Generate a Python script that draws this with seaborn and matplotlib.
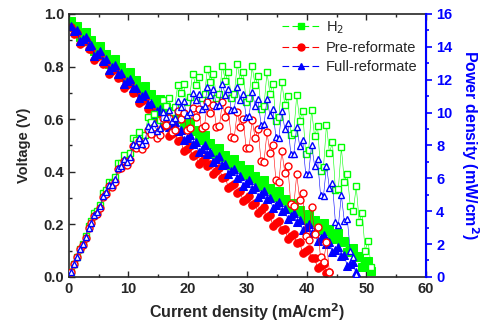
import matplotlib
matplotlib.use("Agg")
import matplotlib.pyplot as plt
import seaborn as sns
from matplotlib.lines import Line2D
from matplotlib.ticker import MultipleLocator

# current density (mA/cm2), voltage (V), power density (mW/cm2)
i_h2 = [0.3, 0.8, 1.3, 1.8, 2.3, 2.8, 3.3, 3.8, 4.3, 4.8, 5.3, 5.8, 6.3, 6.8, 7.3, 7.8, 8.3, 8.8,
        9.3, 9.8, 10.3, 10.8, 11.3, 11.8, 12.3, 12.8, 13.3, 13.8, 14.3, 14.8, 15.3, 15.8, 16.3,
        16.8, 17.3, 17.8, 18.3, 18.8, 19.3, 19.8, 20.3, 20.8, 21.3, 21.8, 22.3, 22.8, 23.3, 23.8,
        24.3, 24.8, 25.3, 25.8, 26.3, 26.8, 27.3, 27.8, 28.3, 28.8, 29.3, 29.8, 30.3, 30.8, 31.3,
        31.8, 32.3, 32.8, 33.3, 33.8, 34.3, 34.8, 35.3, 35.8, 36.3, 36.8, 37.3, 37.8, 38.3, 38.8,
        39.3, 39.8, 40.3, 40.8, 41.3, 41.8, 42.3, 42.8, 43.3, 43.8, 44.3, 44.8, 45.3, 45.8, 46.3,
        46.8, 47.3, 47.8, 48.3, 48.8, 49.3, 49.8, 50.3, 50.8]
v_h2 = [0.972, 0.949, 0.954, 0.913, 0.922, 0.932, 0.896, 0.900, 0.860, 0.869, 0.879, 0.844, 0.849,
        0.809, 0.819, 0.829, 0.794, 0.799, 0.759, 0.769, 0.779, 0.743, 0.748, 0.707, 0.717, 0.726,
        0.691, 0.695, 0.655, 0.664, 0.675, 0.641, 0.648, 0.609, 0.621, 0.632, 0.599, 0.605, 0.567,
        0.578, 0.589, 0.554, 0.559, 0.519, 0.529, 0.539, 0.504, 0.509, 0.469, 0.479, 0.490, 0.457,
        0.464, 0.426, 0.438, 0.450, 0.417, 0.424, 0.386, 0.398, 0.410, 0.376, 0.383, 0.344, 0.356,
        0.367, 0.334, 0.340, 0.302, 0.313, 0.325, 0.291, 0.298, 0.259, 0.271, 0.282, 0.249, 0.255,
        0.217, 0.228, 0.241, 0.209, 0.217, 0.180, 0.193, 0.206, 0.174, 0.182, 0.145, 0.158, 0.168,
        0.132, 0.135, 0.094, 0.102, 0.111, 0.074, 0.079, 0.039, 0.049, 0.059, 0.024]
p_h2 = [0.28, 0.79, 1.23, 1.72, 2.03, 2.47, 3.09, 3.38, 3.87, 3.98, 4.39, 5.13, 5.29, 5.77, 5.69,
        6.08, 6.92, 6.94, 7.43, 7.14, 7.51, 8.46, 8.34, 8.81, 8.33, 8.65, 9.72, 9.45, 9.94, 9.24,
        9.56, 10.76, 10.40, 10.90, 10.05, 10.36, 11.69, 11.19, 11.72, 10.65, 10.94, 12.36, 11.69,
        12.19, 10.90, 11.15, 12.68, 11.88, 12.37, 10.89, 11.13, 12.82, 11.94, 12.49, 10.87, 11.12,
        12.93, 11.92, 12.48, 10.67, 10.91, 12.81, 11.67, 12.21, 10.21, 10.40, 12.45, 11.15, 11.73,
        9.50, 9.71, 11.85, 10.45, 11.00, 8.62, 8.77, 11.07, 9.51, 10.10, 7.48, 7.70, 10.16, 8.55,
        9.20, 6.47, 6.68, 9.27, 7.53, 8.20, 5.29, 5.35, 7.88, 5.79, 6.27, 4.30, 4.00, 5.51, 3.37,
        3.89, 1.60, 2.20, 0.60]

i_pre = [0.3, 0.8, 1.3, 1.8, 2.3, 2.8, 3.3, 3.8, 4.3, 4.8, 5.3, 5.8, 6.3, 6.8, 7.3, 7.8, 8.3, 8.8,
         9.3, 9.8, 10.3, 10.8, 11.3, 11.8, 12.3, 12.8, 13.3, 13.8, 14.3, 14.8, 15.3, 15.8, 16.3,
         16.8, 17.3, 17.8, 18.3, 18.8, 19.3, 19.8, 20.3, 20.8, 21.3, 21.8, 22.3, 22.8, 23.3, 23.8,
         24.3, 24.8, 25.3, 25.8, 26.3, 26.8, 27.3, 27.8, 28.3, 28.8, 29.3, 29.8, 30.3, 30.8, 31.3,
         31.8, 32.3, 32.8, 33.3, 33.8, 34.3, 34.8, 35.3, 35.8, 36.3, 36.8, 37.3, 37.8, 38.3, 38.8,
         39.3, 39.8, 40.3, 40.8, 41.3, 41.8, 42.3, 42.8, 43.3, 43.8]
v_pre = [0.950, 0.923, 0.927, 0.885, 0.893, 0.902, 0.865, 0.868, 0.826, 0.835, 0.844, 0.808, 0.813,
         0.772, 0.782, 0.791, 0.756, 0.760, 0.720, 0.729, 0.738, 0.700, 0.703, 0.660, 0.668, 0.675,
         0.638, 0.640, 0.598, 0.605, 0.613, 0.575, 0.578, 0.535, 0.543, 0.552, 0.516, 0.520, 0.478,
         0.487, 0.496, 0.459, 0.466, 0.428, 0.441, 0.453, 0.421, 0.428, 0.391, 0.403, 0.413, 0.377,
         0.380, 0.338, 0.346, 0.355, 0.320, 0.326, 0.287, 0.298, 0.309, 0.275, 0.281, 0.242, 0.253,
         0.264, 0.229, 0.234, 0.194, 0.204, 0.214, 0.179, 0.184, 0.144, 0.154, 0.164, 0.128, 0.131,
         0.090, 0.098, 0.106, 0.070, 0.073, 0.032, 0.041, 0.050, 0.014, 0.018]
p_pre = [0.27, 0.77, 1.19, 1.67, 1.97, 2.39, 2.97, 3.26, 3.72, 3.84, 4.21, 4.89, 5.06, 5.52, 5.45,
         5.78, 6.57, 6.60, 7.07, 6.80, 7.09, 7.94, 7.83, 8.26, 7.79, 8.00, 8.95, 8.69, 9.12, 8.44,
         8.61, 9.64, 9.26, 9.66, 8.79, 8.94, 10.08, 9.59, 10.00, 8.95, 9.05, 10.28, 9.71, 10.20,
         9.05, 9.19, 10.62, 9.95, 10.47, 9.13, 9.18, 10.63, 9.73, 10.13, 8.49, 8.48, 10.05, 9.10,
         9.58, 7.84, 7.85, 9.55, 8.48, 8.97, 7.04, 7.02, 8.79, 7.57, 8.03, 5.88, 5.79, 7.66, 6.32,
         6.77, 4.44, 4.31, 6.24, 4.69, 5.11, 2.51, 2.26, 4.28, 2.60, 3.01, 1.20, 0.90, 2.12, 0.30]

i_full = [0.3, 0.8, 1.3, 1.8, 2.3, 2.8, 3.3, 3.8, 4.3, 4.8, 5.3, 5.8, 6.3, 6.8, 7.3, 7.8, 8.3, 8.8,
          9.3, 9.8, 10.3, 10.8, 11.3, 11.8, 12.3, 12.8, 13.3, 13.8, 14.3, 14.8, 15.3, 15.8, 16.3,
          16.8, 17.3, 17.8, 18.3, 18.8, 19.3, 19.8, 20.3, 20.8, 21.3, 21.8, 22.3, 22.8, 23.3, 23.8,
          24.3, 24.8, 25.3, 25.8, 26.3, 26.8, 27.3, 27.8, 28.3, 28.8, 29.3, 29.8, 30.3, 30.8, 31.3,
          31.8, 32.3, 32.8, 33.3, 33.8, 34.3, 34.8, 35.3, 35.8, 36.3, 36.8, 37.3, 37.8, 38.3, 38.8,
          39.3, 39.8, 40.3, 40.8, 41.3, 41.8, 42.3, 42.8, 43.3, 43.8, 44.3, 44.8, 45.3, 45.8, 46.3,
          46.8, 47.3, 47.8, 48.2]
v_full = [0.955, 0.934, 0.938, 0.897, 0.905, 0.914, 0.878, 0.882, 0.841, 0.849, 0.859, 0.823, 0.828,
          0.787, 0.797, 0.806, 0.771, 0.775, 0.735, 0.744, 0.753, 0.717, 0.720, 0.679, 0.687, 0.696,
          0.659, 0.662, 0.621, 0.630, 0.639, 0.604, 0.609, 0.569, 0.579, 0.589, 0.554, 0.559, 0.519,
          0.529, 0.540, 0.507, 0.514, 0.476, 0.488, 0.500, 0.467, 0.474, 0.436, 0.448, 0.459, 0.425,
          0.431, 0.391, 0.402, 0.412, 0.378, 0.384, 0.345, 0.357, 0.369, 0.336, 0.343, 0.305, 0.316,
          0.328, 0.295, 0.301, 0.262, 0.274, 0.285, 0.252, 0.258, 0.220, 0.231, 0.242, 0.209, 0.215,
          0.177, 0.188, 0.200, 0.167, 0.174, 0.136, 0.148, 0.160, 0.126, 0.133, 0.094, 0.104, 0.114,
          0.079, 0.083, 0.040, 0.048, 0.055, 0.020]
p_full = [0.28, 0.77, 1.21, 1.68, 2.01, 2.43, 3.00, 3.31, 3.77, 3.93, 4.31, 4.95, 5.15, 5.59, 5.60,
          5.94, 6.65, 6.73, 7.16, 7.00, 7.29, 8.07, 8.02, 8.43, 8.08, 8.33, 9.16, 9.00, 9.38, 8.88,
          9.09, 10.02, 9.76, 10.15, 9.50, 9.68, 10.69, 10.32, 10.69, 9.88, 10.05, 11.17, 10.74, 11.14,
          10.21, 10.37, 11.58, 11.04, 11.45, 10.37, 10.47, 11.74, 11.07, 11.42, 10.16, 10.20, 11.55,
          10.77, 11.13, 9.74, 9.82, 11.27, 10.42, 10.81, 9.24, 9.28, 10.82, 9.84, 10.19, 8.49, 8.47,
          10.10, 9.00, 9.38, 7.50, 7.45, 9.15, 7.95, 8.33, 6.29, 6.25, 8.04, 6.77, 7.15, 4.99, 4.92,
          6.75, 5.39, 5.71, 3.32, 3.13, 4.99, 3.38, 3.51, 1.60, 1.20, 0.20]

labels = ["H$_2$", "Pre-reformate", "Full-reformate"]
colors = ["#00ff00", "#ff0000", "#0000ff"]
markers = ["s", "o", "^"]

sns.set_style("ticks")
plt.rcParams["font.family"] = ["Liberation Sans", "DejaVu Sans"]

fig = plt.figure(figsize=(4.85, 3.25), dpi=100)
ax = fig.add_axes([0.142, 0.148, 0.736, 0.809])
ax2 = ax.twinx()

series = [(i_h2, v_h2, p_h2), (i_pre, v_pre, p_pre), (i_full, v_full, p_full)]
for (cur, volt, pw), c, m in zip(series, colors, markers):
    sns.lineplot(x=cur, y=volt, ax=ax, color=c, marker=m, markersize=5.4, markeredgecolor=c,
                 linewidth=0.5, sort=False, estimator=None)
    sns.lineplot(x=cur, y=pw, ax=ax2, color=c, marker=m, markersize=5.0, markerfacecolor="white",
                 markeredgecolor=c, markeredgewidth=1.0, linewidth=0.4, sort=False, estimator=None)

ax.set_xlim(0, 60)
ax.set_ylim(0, 1.0)
ax2.set_ylim(0, 16)
ax.xaxis.set_major_locator(MultipleLocator(10))
ax.xaxis.set_minor_locator(MultipleLocator(5))
ax.yaxis.set_major_locator(MultipleLocator(0.2))
ax.yaxis.set_minor_locator(MultipleLocator(0.1))
ax2.yaxis.set_major_locator(MultipleLocator(2))
ax2.yaxis.set_minor_locator(MultipleLocator(1))

ax.set_xlabel("Current density (mA/cm$^\\mathbf{2}$)", labelpad=4, fontweight="bold",
              fontsize=11.5)
ax.set_ylabel("Voltage (V)", labelpad=9, fontweight="bold", fontsize=10.5)
ax2.set_ylabel("Power density (mW/cm$^\\mathbf{2}$)", color="#0000ff", rotation=270,
               labelpad=20, fontweight="bold", fontsize=11.5)

ax.tick_params(which="both", direction="in", top=True, right=False, width=1, labelsize=10.5)
ax.tick_params(which="major", length=4)
ax.tick_params(which="minor", length=2)
ax2.tick_params(which="both", direction="out", colors="#0000ff", width=1.2, labelsize=10.5)
ax2.tick_params(which="major", length=4)
ax2.tick_params(which="minor", length=2)
for t in ax.get_xticklabels() + ax.get_yticklabels() + ax2.get_yticklabels():
    t.set_fontweight("bold")

for s in ["left", "bottom", "top"]:
    ax.spines[s].set_linewidth(1.2)
ax2.spines["right"].set_color("#0000ff")
ax2.spines["right"].set_linewidth(1.5)
ax2.spines["left"].set_visible(False)
ax2.spines["top"].set_visible(False)
ax2.spines["bottom"].set_visible(False)

handles = [Line2D([], [], color=c, marker=m, markersize=5, linewidth=0.8, dashes=(6, 3))
           for c, m in zip(colors, markers)]
ax.legend(handles, labels, loc="upper left", bbox_to_anchor=(0.56, 1.03), frameon=False,
          fontsize=10.5, handlelength=2.6, handletextpad=0.4, labelspacing=0.35)

fig.savefig("out.png", dpi=100)
